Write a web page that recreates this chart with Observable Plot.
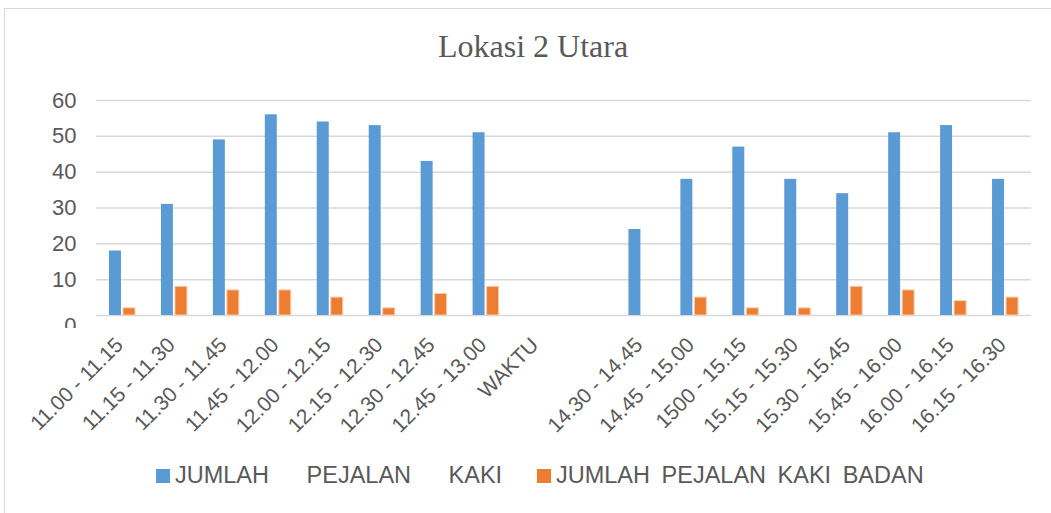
<!DOCTYPE html>
<html>
<head>
<meta charset="utf-8">
<script src="https://cdn.jsdelivr.net/npm/d3@7"></script>
<script src="https://cdn.jsdelivr.net/npm/@observablehq/plot@0.6"></script>
<style>
  html, body { margin: 0; padding: 0; background: #fff; }
  #wrap { position: relative; width: 1051px; height: 513px; overflow: hidden; font-family: "Liberation Sans", Arial, sans-serif; color: #595959; }
  #frame { position: absolute; left: 4px; top: 8px; width: 1100px; height: 600px; border-left: 1.5px solid #d9d9d9; border-top: 1.5px solid #d9d9d9; }
  #title { position: absolute; left: 0; width: 1066px; top: 28px; text-align: center; font-family: "Liberation Serif", "DejaVu Serif", serif; font-size: 32px; color: #595959; }
  #chart { position: absolute; left: 0; top: 0; }
  #cut { position: absolute; left: 55px; top: 328px; width: 30px; height: 10px; background: #fff; }
  .leg { position: absolute; top: 462px; display: flex; align-items: center; font-size: 23.5px; color: #595959; white-space: pre; }
  .sw { width: 14px; height: 14px; margin-right: 5px; }
</style>
</head>
<body>
<div id="wrap">
  <div id="frame"></div>
  <div id="chart"></div>
  <div id="cut"></div>
  <div id="title"></div>
  <div class="leg" id="leg0" style="left:156px; word-spacing:31px;"></div>
  <div class="leg" id="leg1" style="left:537px; word-spacing:5px;"></div>
</div>
<script>
const title = "Lokasi 2 Utara";
const categories = ["11.00 - 11.15", "11.15 - 11.30", "11.30 - 11.45", "11.45 - 12.00", "12.00 - 12.15", "12.15 - 12.30", "12.30 - 12.45", "12.45 - 13.00", "WAKTU", "", "14.30 - 14.45", "14.45 - 15.00", "1500 - 15.15", "15.15 - 15.30", "15.30 - 15.45", "15.45 - 16.00", "16.00 - 16.15", "16.15 - 16.30"];
const seriesNames = ["JUMLAH PEJALAN KAKI", "JUMLAH PEJALAN KAKI BADAN"];
const jumlahPejalanKaki = [18, 31, 49, 56, 54, 53, 43, 51, null, null, 24, 38, 47, 38, 34, 51, 53, 38];
const jumlahPejalanKakiBadan = [2, 8, 7, 7, 5, 2, 6, 8, null, null, null, 5, 2, 2, 8, 7, 4, 5];
const yTicks = [0, 10, 20, 30, 40, 50, 60];
const colors = ["#5B9BD5", "#ED7D31"];

const rows0 = categories.map((c, i) => ({cat: c, v: jumlahPejalanKaki[i]})).filter(d => d.v != null);
const rows1 = categories.map((c, i) => ({cat: c, v: jumlahPejalanKakiBadan[i]})).filter(d => d.v != null);

const chart = Plot.plot({
  width: 1051,
  height: 440,
  marginLeft: 96,
  marginRight: 20,
  marginTop: 100,
  marginBottom: 125,
  style: {fontFamily: "'Liberation Sans', Arial, sans-serif", color: "#595959", background: "transparent"},
  x: {type: "band", domain: categories, paddingInner: 0.5, paddingOuter: 0.25, round: false, label: null},
  y: {domain: [0, 60], label: null},
  marks: [
    Plot.ruleY(yTicks, {stroke: "#d9d9d9", strokeWidth: 1.5}),
    Plot.barY(rows0, {x: "cat", y: "v", fill: colors[0], insetRight: 14, insetLeft: 0}),
    Plot.barY(rows1, {x: "cat", y: "v", fill: colors[1], insetLeft: 14, insetRight: 0, stroke: "#f8cbad", strokeWidth: 1}),
    Plot.axisY(yTicks.filter(t => t !== 0), {tickSize: 0, tickPadding: 20, fontSize: 22, fill: "#595959", label: null}),
    Plot.axisY([0], {tickSize: 0, tickPadding: 20, fontSize: 22, fill: "#595959", dy: 10, label: null}),
    Plot.axisX({tickSize: 0, tickPadding: 26, dx: -3, tickRotate: -45, fontSize: 21, fill: "#595959", label: null})
  ]
});
document.getElementById("chart").appendChild(chart);
document.getElementById("title").textContent = title;

[0, 1].forEach(i => {
  const el = document.getElementById("leg" + i);
  const sw = document.createElement("div");
  sw.className = "sw";
  sw.style.background = colors[i];
  el.appendChild(sw);
  const t = document.createElement("span");
  t.textContent = seriesNames[i];
  el.appendChild(t);
});
</script>
</body>
</html>
